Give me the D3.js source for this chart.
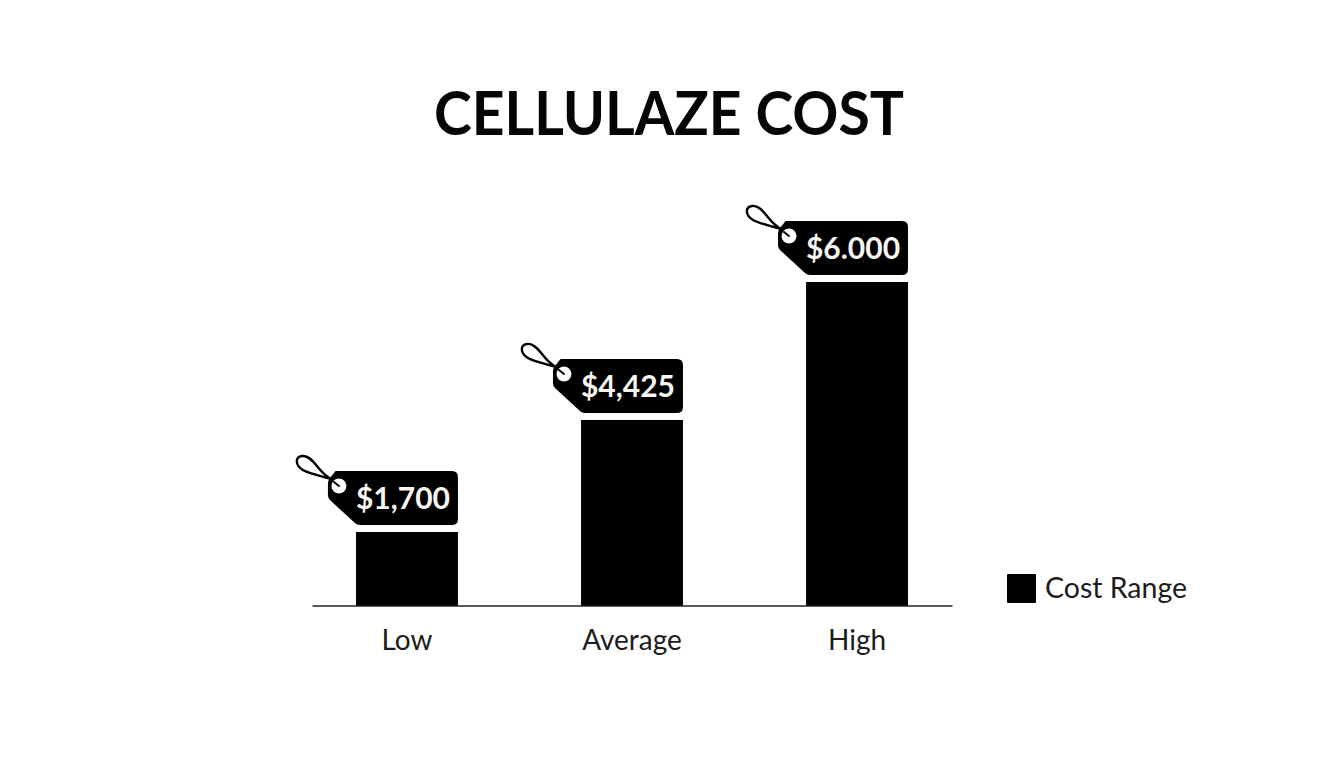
<!DOCTYPE html>
<html><head><meta charset="utf-8">
<script src="https://cdn.jsdelivr.net/npm/d3@7"></script>
<style>html,body{margin:0;background:#fff}svg{display:block}text{font-family:Lato,"Open Sans",sans-serif}</style>
</head><body><svg id="c" width="1344" height="768"></svg>
<script>
const categories = ["Low","Average","High"];
const priceLabels = ["$1,700","$4,425","$6.000"];
const barValues = [1370,3445,6000];
const titleText = "CELLULAZE COST";
const legendText = "Cost Range";

const svg = d3.select("#c");
const x = d3.scaleBand().domain(categories).range([312,952]).paddingInner(0.547).paddingOuter(0.1955);
const y = d3.scaleLinear().domain([0,6000]).range([606,282]);

svg.append("text").attr("x",669).attr("y",135).attr("text-anchor","middle")
  .attr("font-size",62).attr("font-weight",700).attr("fill","#050505")
  .attr("textLength",470).attr("lengthAdjust","spacingAndGlyphs").text(titleText);

svg.selectAll("rect.bar").data(categories).join("rect").attr("class","bar")
  .attr("x",d=>x(d)).attr("width",x.bandwidth())
  .attr("y",(d,i)=>y(barValues[i])).attr("height",(d,i)=>y(0)-y(barValues[i])).attr("fill","#000");

const axis = svg.append("g").attr("transform","translate(0,605.5)")
  .call(d3.axisBottom(x).tickSize(0).tickPadding(25));
axis.select(".domain").attr("stroke","#222").attr("stroke-width",1.5);
axis.selectAll("text").attr("font-size",28).attr("fill","#1c1c1c").attr("font-family","Lato,sans-serif");

const tags = svg.selectAll("g.tag").data(categories).join("g").attr("class","tag")
  .attr("transform",(d,i)=>`translate(${x(d)+x.bandwidth()},${y(barValues[i])-7})`);
tags.append("path").attr("fill","#000")
  .attr("d","M-122,-54 H-6 Q0,-54 0,-48 V-6 Q0,0 -6,0 H-98 Q-101,0 -103,-2 L-128,-25 Q-130,-27 -130,-30 V-42 Q-130,-45 -128,-47 L-124,-52 Q-123,-54 -122,-54 Z");
tags.append("circle").attr("cx",-119).attr("cy",-39).attr("r",7.5).attr("fill","#fff");
tags.append("path").attr("fill","none").attr("stroke","#000").attr("stroke-width",2).attr("stroke-linecap","round")
  .attr("d","M-119,-39 L-124,-43");
tags.append("path").attr("fill","none").attr("stroke","#000").attr("stroke-width",2.4).attr("stroke-linecap","round")
  .attr("d","M-127,-46 C-136,-49 -148,-51 -155,-55 C-163,-60 -163,-68 -156,-69 C-150,-70 -145,-64 -141,-59 C-137,-54 -134,-50 -127,-46");
tags.append("text").attr("x",-55).attr("y",-16).attr("text-anchor","middle")
  .attr("font-size",30).attr("font-weight",700).attr("fill","#f7f5f0")
  .text((d,i)=>priceLabels[i]);

svg.append("rect").attr("x",1007).attr("y",574).attr("width",29).attr("height",29).attr("rx",1).attr("fill","#000");
svg.append("text").attr("x",1045).attr("y",598).attr("font-size",29).attr("fill","#1c1c1c")
  .attr("textLength",142).attr("lengthAdjust","spacingAndGlyphs").text(legendText);
</script></body></html>
